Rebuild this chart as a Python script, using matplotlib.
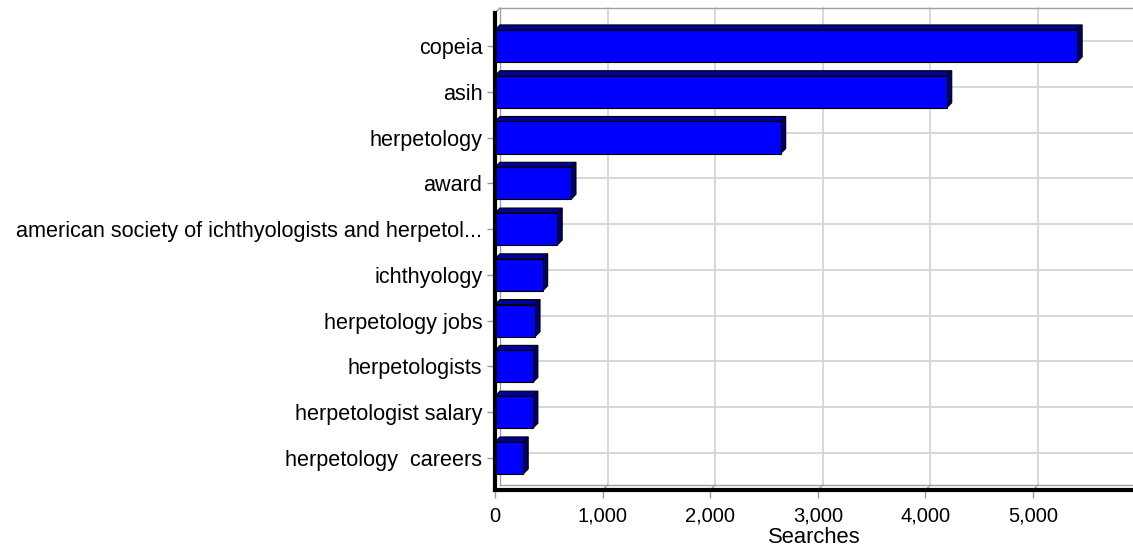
#!/usr/bin/env python3
"""
Top search terms: horizontal 3D-style bar chart of searches per term.
"""

import matplotlib
matplotlib.use('Agg')
import matplotlib.pyplot as plt
import matplotlib.transforms as mtransforms
from matplotlib.patches import Rectangle, Polygon
from matplotlib.ticker import FuncFormatter

# Data
terms = [
    'copeia',
    'asih',
    'herpetology',
    'award',
    'american society of ichthyologists and herpetol...',
    'ichthyology',
    'herpetology jobs',
    'herpetologists',
    'herpetologist salary',
    'herpetology  careers',
]
searches = [5410, 4198, 2655, 706, 578, 443, 372, 352, 352, 262]
x_ticks = [0, 1000, 2000, 3000, 4000, 5000]

plt.rcParams.update({
    'font.family': ['Liberation Sans', 'DejaVu Sans'],
    'font.size': 14.5,
    'figure.dpi': 100,
    'savefig.dpi': 100,
})

W, H = 1133, 556
fig = plt.figure(figsize=(W / 100, H / 100))
# front plane of the 3D box, in pixels
left, right, top, bottom = 495, 1133, 13, 490
ax = fig.add_axes([left / W, (H - bottom) / H, (right - left) / W, (bottom - top) / H])

XMAX = 5929
YLIM = (9.70, -0.72)
ax.set_xlim(0, XMAX)
ax.set_ylim(*YLIM)

# depth of the 3D effect: 5 px right, 5 px up
depth_px = 5
dx = depth_px * XMAX / (right - left)
dy = depth_px * (YLIM[0] - YLIM[1]) / (bottom - top)
back = ax.transData + mtransforms.ScaledTranslation(depth_px / 100, depth_px / 100,
                                                    fig.dpi_scale_trans)

grid_col = '#d6d6d6'
edge_col = '#a0a0a0'

# back wall grid
for xt in x_ticks[1:]:
    ax.plot([xt, xt], [YLIM[0], YLIM[1]], color=grid_col, lw=1.3,
            transform=back, clip_on=False, zorder=1)
for i in range(len(terms)):
    ax.plot([0, XMAX], [i, i], color=grid_col, lw=1.3,
            transform=back, clip_on=False, zorder=1)

# wall and floor edges
ax.plot([0, 0], [YLIM[0], YLIM[1]], color=edge_col, lw=1.0, transform=back, clip_on=False, zorder=1)
ax.plot([0, XMAX], [YLIM[1], YLIM[1]], color=edge_col, lw=1.0, transform=back, clip_on=False, zorder=1)
ax.plot([0, XMAX], [YLIM[0], YLIM[0]], color=edge_col, lw=1.0, transform=back, clip_on=False, zorder=1)
ax.plot([0, dx], [YLIM[1], YLIM[1] - dy], color=edge_col, lw=1.0, clip_on=False, zorder=1)
for xt in x_ticks[1:]:
    ax.plot([xt, xt + dx], [YLIM[0], YLIM[0] - dy], color=edge_col, lw=1.0,
            clip_on=False, zorder=1)

# 3D bars
bar_h = 0.70
for i, v in enumerate(searches):
    y0 = i - bar_h / 2
    y1 = i + bar_h / 2
    ax.add_patch(Polygon([(0, y0), (v, y0), (v + dx, y0 - dy), (dx, y0 - dy)],
                         closed=True, facecolor='#00009c', edgecolor='black',
                         lw=0.8, zorder=3, clip_on=False))
    ax.add_patch(Polygon([(v, y0), (v + dx, y0 - dy), (v + dx, y1 - dy), (v, y1)],
                         closed=True, facecolor='#000070', edgecolor='black',
                         lw=0.8, zorder=3, clip_on=False))
    ax.add_patch(Rectangle((0, y0), v, bar_h, facecolor='#0000ff',
                           edgecolor='black', lw=0.8, zorder=4))

# axes styling
for side in ['top', 'right']:
    ax.spines[side].set_visible(False)
for side in ['left', 'bottom']:
    ax.spines[side].set_linewidth(3)
    ax.spines[side].set_color('black')
    ax.spines[side].set_zorder(5)

ax.set_yticks(range(len(terms)))
ax.set_yticklabels(terms, fontsize=15.6)
ax.set_xticks(x_ticks)
ax.xaxis.set_major_formatter(FuncFormatter(lambda v, p: f'{int(v):,}'))
ax.tick_params(axis='both', direction='out', length=6, width=1, color='#999999')
ax.tick_params(axis='y', pad=3)
ax.tick_params(axis='x', pad=6, labelsize=14.5)

ax.set_xlabel('Searches', fontsize=15.8, labelpad=1)

fig.savefig('out.png', dpi=100)
